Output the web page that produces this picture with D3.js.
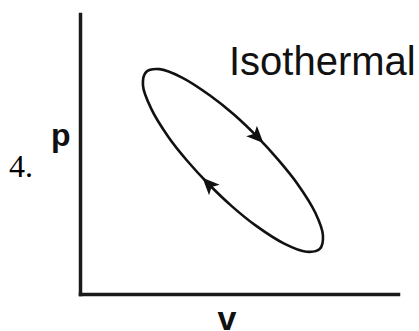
<!DOCTYPE html>
<html>
<head>
<meta charset="utf-8">
<script src="https://cdn.jsdelivr.net/npm/d3@7"></script>
<style>
  html, body { margin: 0; padding: 0; background: #fff; }
</style>
</head>
<body>
<div class="container"></div>
<script>
// loop points (V, p), read clockwise from the upper-left tip of the cycle
const loopV = [2.08, 2.50, 3.21, 4.10, 4.84, 5.57, 6.25, 6.84, 7.40, 7.64, 7.54, 7.12, 6.42, 5.52, 4.78, 4.05, 3.37, 2.78, 2.23, 1.98];
const loopP = [7.93, 8.03, 7.73, 7.08, 6.41, 5.62, 4.77, 3.93, 2.90, 2.09, 1.61, 1.51, 1.80, 2.45, 3.13, 3.92, 4.76, 5.61, 6.64, 7.45];
// which loop points carry a direction arrow
const arrowAt = [5, 15];

// labels
const title = "Isothermal";
const xLabel = "v";
const yLabel = "p";
const number = "4.";

const W = 419, H = 331;
const margin = { top: 14, right: 21, bottom: 37, left: 80 };

const svg = d3.select(".container")
  .append("svg")
  .attr("width", W)
  .attr("height", H)
  .style("display", "block")
  .style("background-color", "white");

// scales, no ticks on this sketch
const x = d3.scaleLinear().domain([0, 10]).range([margin.left, W - margin.right]);
const y = d3.scaleLinear().domain([0, 10]).range([H - margin.bottom, margin.top]);

// axes: only the two lines
svg.append("g")
  .attr("transform", `translate(0,${y(0)})`)
  .call(d3.axisBottom(x).ticks(0).tickSize(0))
  .call(g => g.select(".domain").attr("stroke", "#1a1a1a").attr("stroke-width", 3.5).attr("stroke-linecap", "square"));

svg.append("g")
  .attr("transform", `translate(${x(0)},0)`)
  .call(d3.axisLeft(y).ticks(0).tickSize(0))
  .call(g => g.select(".domain").attr("stroke", "#1a1a1a").attr("stroke-width", 3.5).attr("stroke-linecap", "square"));

// the cycle
const pts = loopV.map((v, i) => ({ v, p: loopP[i] }));

const line = d3.line()
  .x(d => x(d.v))
  .y(d => y(d.p))
  .curve(d3.curveCatmullRomClosed.alpha(0.5));

svg.append("path")
  .datum(pts)
  .attr("d", line)
  .attr("fill", "none")
  .attr("stroke", "#111")
  .attr("stroke-width", 2.6);

// arrow heads, pointing along the direction of travel
arrowAt.forEach(i => {
  const a = pts[(i - 1 + pts.length) % pts.length];
  const b = pts[(i + 1) % pts.length];
  const ang = Math.atan2(y(b.p) - y(a.p), x(b.v) - x(a.v)) * 180 / Math.PI;
  svg.append("path")
    .attr("d", "M9,0 L-8,-7.5 L-4,0 L-8,7.5 Z")
    .attr("fill", "#111")
    .attr("transform", `translate(${x(pts[i].v)},${y(pts[i].p)}) rotate(${ang})`);
});

// texts
svg.append("text")
  .attr("x", 229)
  .attr("y", 75)
  .attr("font-family", "Liberation Sans, Arial, sans-serif")
  .attr("font-size", 40)
  .attr("fill", "#111")
  .text(title);

svg.append("text")
  .attr("x", 51)
  .attr("y", 146)
  .attr("font-family", "Liberation Sans, Arial, sans-serif")
  .attr("font-weight", "bold")
  .attr("font-size", 32)
  .attr("fill", "#111")
  .text(yLabel);

svg.append("text")
  .attr("x", 227)
  .attr("y", 330)
  .attr("text-anchor", "middle")
  .attr("font-family", "Liberation Sans, Arial, sans-serif")
  .attr("font-weight", "bold")
  .attr("font-size", 34)
  .attr("fill", "#111")
  .text(xLabel);

svg.append("text")
  .attr("x", 9)
  .attr("y", 177)
  .attr("font-family", "Liberation Serif, Times New Roman, serif")
  .attr("font-size", 32)
  .attr("fill", "#000")
  .text(number);
</script>
</body>
</html>
